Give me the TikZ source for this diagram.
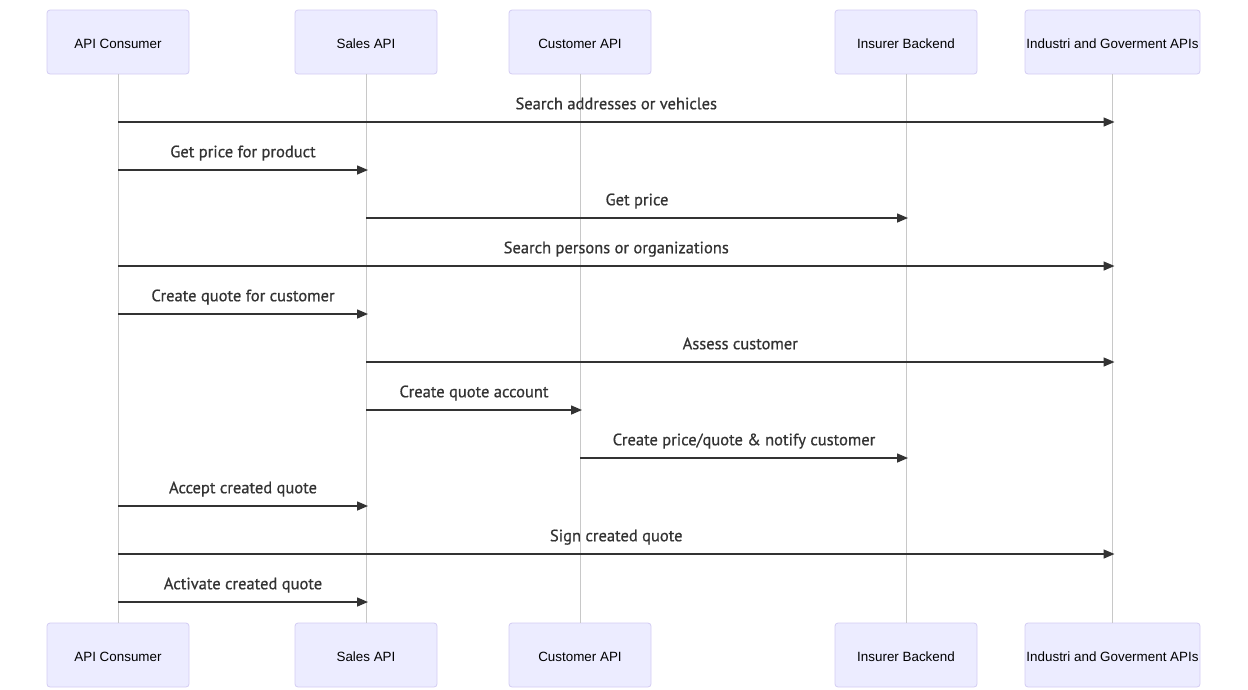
\documentclass[tikz,border=0pt]{standalone}
\usepackage{fontspec}
\setmainfont{Liberation Sans}
\newfontface\msgfont{PT Sans}[FakeBold=0.7]
\usetikzlibrary{arrows.meta}
\definecolor{actorfill}{HTML}{ECECFF}
\definecolor{actorline}{HTML}{D3CCF3}
\definecolor{lifeline}{HTML}{C8C8C8}
\definecolor{msgline}{HTML}{333333}
\tikzset{
  actor/.style={draw=actorline,fill=actorfill,rounded corners=3pt,line width=0.8pt,
    minimum width=142pt,minimum height=64pt,inner sep=0pt,text height=13pt,text depth=0pt,
    font=\fontsize{13.4}{16}\selectfont},
  msg/.style={draw=msgline,line width=1.5pt,-{Triangle[length=11pt,width=9pt]}},
  msglabel/.style={font=\msgfont\fontsize{16.5}{18}\selectfont,text=msgline,inner sep=0pt,
    text height=12pt,text depth=4pt},
}
\begin{document}
\begin{tikzpicture}[x=1pt,y=-1pt]
\useasboundingbox (0,0) rectangle (1248,689);
% participants, top and bottom
\foreach \name/\xpos/\boxw/\txt in {cons/118/142/API Consumer,sales/366/142/Sales API,cust/580/142/Customer API,ins/906/142/Insurer Backend,gov/1112.5/175/Industri and Goverment APIs}{
  \node[actor,minimum width=\boxw pt] (\name) at (\xpos,42) {\txt};
  \node[actor,minimum width=\boxw pt] (\name b) at (\xpos,655) {\txt};
  \draw[lifeline,line width=0.8pt] (\name.south) -- (\name b.north);
}
% messages
\foreach \from/\to/\ypos/\txt in {
  cons/gov/122/{Search addresses or vehicles},
  cons/sales/170/{Get price for product},
  sales/ins/218/{Get price},
  cons/gov/266/{Search persons or organizations},
  cons/sales/314/{Create quote for customer},
  sales/gov/362/{Assess customer},
  sales/cust/410/{Create quote account},
  cust/ins/458/{Create price/quote \& notify customer},
  cons/sales/506/{Accept created quote},
  cons/gov/554/{Sign created quote},
  cons/sales/602/{Activate created quote}}{
  \coordinate (m) at (0,\ypos);
  \draw[msg] (\from |- m) -- node[msglabel,above=8pt] {\txt} ([xshift=2pt]\to |- m);
}
\end{tikzpicture}
\end{document}
